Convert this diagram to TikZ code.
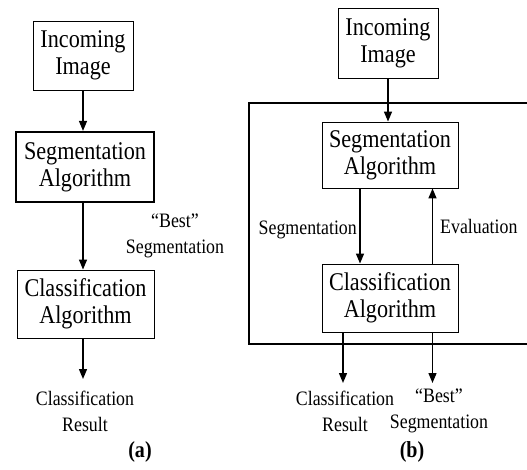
\documentclass[tikz,border=0pt]{standalone}
\usepackage{fontspec}
\setmainfont{Liberation Serif}[FakeStretch=0.87]
\usetikzlibrary{arrows.meta}
\tikzset{
  box/.style={draw, line width=0.9pt, align=center, inner sep=0pt,
    font=\fontsize{25.5}{27}\selectfont},
  thickbox/.style={box, line width=2.2pt},
  arr/.style={line width=1.4pt, -{Triangle[length=10pt,width=8pt]}},
  lbl/.style={align=center, inner sep=0pt, font=\fontsize{20.5}{26}\selectfont},
  captxt/.style={inner sep=0pt, font=\fontsize{23}{26}\selectfont\bfseries},
  bigframe/.style={line width=2.2pt}
}
\begin{document}
\begin{tikzpicture}[x=1pt,y=-1pt]
\useasboundingbox (0,0) rectangle (527,470);
% (a)
\node[box, minimum width=100pt, minimum height=69pt] (inA) at (83,55.5) {Incoming\\Image};
\node[thickbox, minimum width=138pt, minimum height=70pt] (segA) at (85,167) {Segmentation\\Algorithm};
\node[box, minimum width=137pt, minimum height=68pt] (clsA) at (85.5,304) {Classification\\Algorithm};
\coordinate (resA) at (83,379);
\node[lbl] (resAt) at (85,411) {Classification\\Result};
\node[lbl] (bestA) at (175,236) {``Best''\\Segmentation};
\node[captxt] (capA) at (140,452) {(a)};
\draw[arr] (inA.south) -- (inA.south |- segA.north);
\draw[arr] (inA.south |- segA.south) -- (inA.south |- clsA.north);
\draw[arr] (inA.south |- clsA.south) -- (resA);
% (b)
\node[box, minimum width=100pt, minimum height=70pt] (inB) at (388,43) {Incoming\\Image};
\draw[bigframe] (528,103) -- (249,103) -- (249,344) -- (528,344);
\node[box, minimum width=136pt, minimum height=66pt] (segB) at (390,155) {Segmentation\\Algorithm};
\node[box, minimum width=136pt, minimum height=68pt] (clsB) at (390,298) {Classification\\Algorithm};
\coordinate (sx) at (360,0);
\coordinate (ex) at (432.5,0);
\coordinate (rx) at (343,0);
\coordinate (resB) at (343,383);
\coordinate (bestB) at (432.5,383);
\draw[arr] (inB.south) -- (inB.south |- segB.north);
\draw[arr] (sx |- segB.south) -- (sx |- clsB.north);
\draw[arr] (ex |- clsB.north) -- (ex |- segB.south);
\draw[arr] (rx |- clsB.south) -- (resB);
\draw[arr] (ex |- clsB.south) -- (bestB);
\node[lbl, anchor=east] (segL) at (357,230) {Segmentation};
\node[lbl, anchor=west] (evalL) at (440,226) {Evaluation};
\node[lbl] (resBt) at (345,411) {Classification\\Result};
\node[lbl] (bestBt) at (439,411) {``Best''\\Segmentation};
\node[captxt] (capB) at (412,452) {(b)};
\end{tikzpicture}
\end{document}
